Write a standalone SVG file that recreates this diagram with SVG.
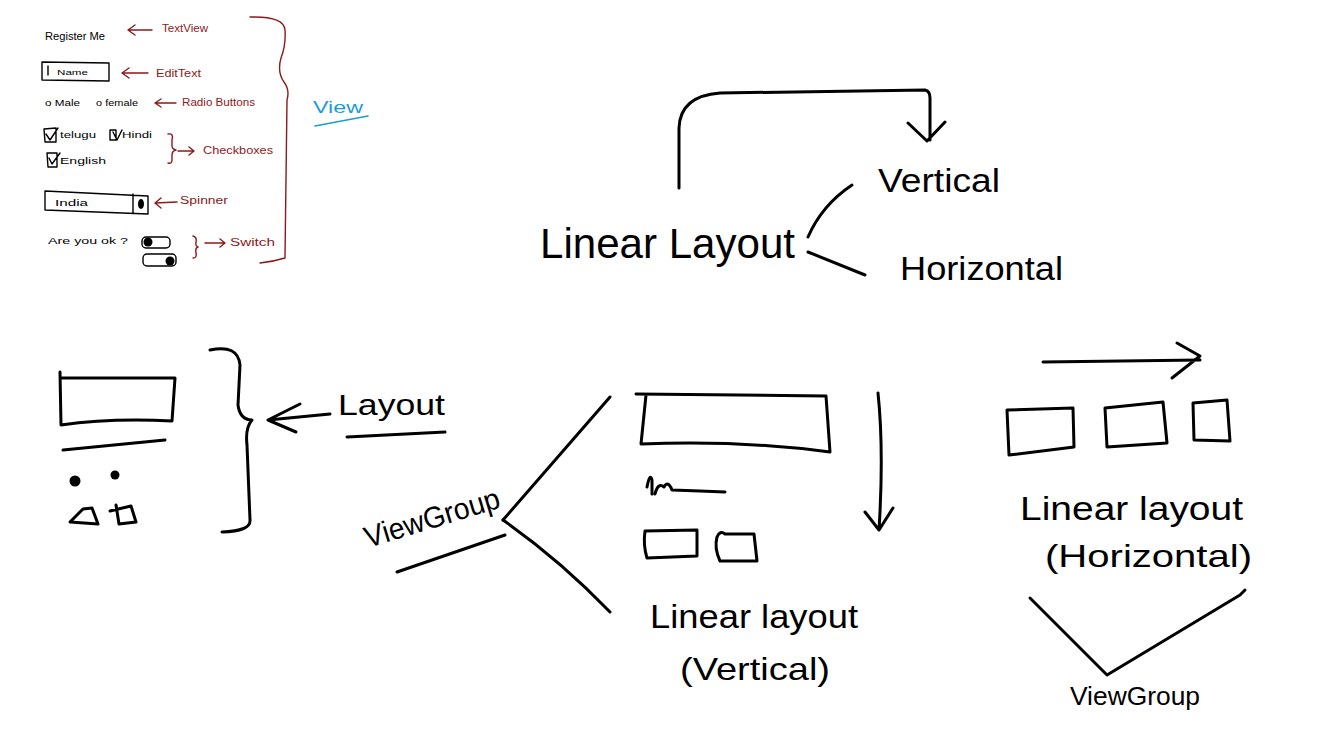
<svg xmlns="http://www.w3.org/2000/svg" width="1342" height="729" viewBox="0 0 1342 729">
<defs>
<style>
.bg{fill:#ffffff}
.s{fill:none;stroke:#000;stroke-width:3;stroke-linecap:round;stroke-linejoin:round}
.t{fill:none;stroke:#000;stroke-width:1.4;stroke-linecap:round;stroke-linejoin:round}
.r{fill:none;stroke:#8b1a1a;stroke-width:1.4;stroke-linecap:round;stroke-linejoin:round}
.b{fill:none;stroke:#1e9bd7;stroke-width:1.6;stroke-linecap:round}
.txt{font-family:"Liberation Sans","DejaVu Sans",sans-serif;fill:#000}
.rt{font-family:"Liberation Sans","DejaVu Sans",sans-serif;fill:#8b1a1a}
.bt{font-family:"Liberation Sans","DejaVu Sans",sans-serif;fill:#1e9bd7}
</style>
</defs>
<rect class="bg" x="0" y="0" width="1342" height="729"/>

<g id="view-mockup">
  <text class="txt" x="45" y="40" font-size="10" textLength="60" lengthAdjust="spacingAndGlyphs">Register Me</text>
  <path class="t" d="M42,62 L109,63 L109,81 L42,80 Z M48,66 L48,75"/>
  <text class="txt" x="57" y="75" font-size="8" textLength="31" lengthAdjust="spacingAndGlyphs">Name</text>
  <text class="txt" x="45" y="106" font-size="9" textLength="35" lengthAdjust="spacingAndGlyphs">o Male</text>
  <text class="txt" x="96" y="106" font-size="9" textLength="42" lengthAdjust="spacingAndGlyphs">o female</text>
  <path class="t" d="M44,129 L56,128 L56,142 L45,142 Z M46,134 L50,140 L58,128"/>
  <text class="txt" x="60" y="138" font-size="9" textLength="36" lengthAdjust="spacingAndGlyphs">telugu</text>
  <path class="t" d="M110,130 L116,130 L116,140 L110,140 Z M113,132 L117,140 L122,130"/>
  <text class="txt" x="122" y="138" font-size="9" textLength="30" lengthAdjust="spacingAndGlyphs">Hindi</text>
  <path class="t" d="M47,153 L57,153 L57,167 L48,167 Z M49,158 L52,164 L60,153"/>
  <text class="txt" x="60" y="164" font-size="9" textLength="46" lengthAdjust="spacingAndGlyphs">English</text>
  <path class="t" d="M45,191 L148,196 L148,214 L45,210 Z M133,194 L133,213"/>
  <ellipse cx="141" cy="204" rx="3" ry="5" fill="#000"/>
  <text class="txt" x="55" y="206" font-size="9" textLength="33" lengthAdjust="spacingAndGlyphs">India</text>
  <text class="txt" x="48" y="244" font-size="9" textLength="80" lengthAdjust="spacingAndGlyphs">Are you ok ?</text>
  <rect class="t" x="142" y="237" width="28" height="11" rx="4"/>
  <circle cx="148" cy="242" r="4.5" fill="#000"/>
  <rect class="t" x="143" y="254" width="33" height="12" rx="4"/>
  <circle cx="170" cy="261" r="4.5" fill="#000"/>
</g>

<g id="view-labels">
  <path class="r" d="M152,30 L128,30 M135,25 L128,30 L135,35"/>
  <text class="rt" x="162" y="32" font-size="10" textLength="46" lengthAdjust="spacingAndGlyphs">TextView</text>
  <path class="r" d="M148,73 L122,73 M129,68 L122,73 L129,78"/>
  <text class="rt" x="156" y="77" font-size="10" textLength="45" lengthAdjust="spacingAndGlyphs">EditText</text>
  <path class="r" d="M176,103 L155,103 M161,99 L155,103 L161,107"/>
  <text class="rt" x="182" y="106" font-size="10" textLength="73" lengthAdjust="spacingAndGlyphs">Radio Buttons</text>
  <path class="r" d="M168,134 Q174,133 172,140 L172,146 Q172,149 176,150 Q172,151 172,155 L172,160 Q172,164 168,163 M178,151 L194,151 M189,147 L194,151 L189,155"/>
  <text class="rt" x="203" y="154" font-size="10" textLength="70" lengthAdjust="spacingAndGlyphs">Checkboxes</text>
  <path class="r" d="M177,202 L155,203 M161,198 L155,203 L161,208"/>
  <text class="rt" x="180" y="204" font-size="10" textLength="48" lengthAdjust="spacingAndGlyphs">Spinner</text>
  <path class="r" d="M193,236 Q197,237 196,242 Q195,246 198,247 Q195,248 196,253 Q197,258 193,258 M205,243 L225,243 M220,239 L225,243 L220,247"/>
  <text class="rt" x="230" y="246" font-size="10" textLength="45" lengthAdjust="spacingAndGlyphs">Switch</text>
  <path class="r" d="M250,17 Q284,16 285,30 Q286,45 281,58 Q277,72 284,82 Q290,90 287,100 L285,258 Q272,262 260,263"/>
</g>

<g id="view-title">
  <text class="bt" x="313" y="113" font-size="17" textLength="50" lengthAdjust="spacingAndGlyphs">View</text>
  <path class="b" d="M315,126 L368,116"/>
</g>

<g id="linear-layout-top">
  <text class="txt" x="540" y="258" font-size="42" textLength="255" lengthAdjust="spacingAndGlyphs">Linear Layout</text>
</g>
<g id="vertical-top">
  <text class="txt" x="878" y="192" font-size="34" textLength="122" lengthAdjust="spacingAndGlyphs">Vertical</text>
</g>
<g id="horizontal-top">
  <text class="txt" x="900" y="280" font-size="34" textLength="163" lengthAdjust="spacingAndGlyphs">Horizontal</text>
</g>

<g id="layout-mockup">
  <path class="s" d="M60,372 L61,425 Q110,418 172,421 L175,378 L62,378"/>
  <path class="s" d="M63,450 L165,440"/>
  <circle cx="75" cy="481" r="4.5" fill="#000" stroke="#000" stroke-width="2"/>
  <circle cx="115" cy="475" r="4.5" fill="#000"/>
  <path class="s" d="M70,522 L83,509 L92,508 L98,524 Z"/>
  <path class="s" d="M110,511 L131,506 L136,522 L119,524 L116,505"/>
  <path class="s" d="M210,350 Q238,344 240,365 L238,405 Q240,420 252,420 Q245,428 247,445 L250,520 Q251,531 222,532"/>
</g>

<g id="layout-label">
  <text class="txt" x="338" y="415" font-size="30" textLength="107" lengthAdjust="spacingAndGlyphs">Layout</text>
  <path class="s" d="M347,437 L445,432"/>
</g>

<g id="viewgroup-left">
  <text class="txt" x="368" y="548" font-size="30" textLength="140" lengthAdjust="spacingAndGlyphs" transform="rotate(-17 368 548)">ViewGroup</text>
  <path class="s" d="M397,572 L505,535"/>
</g>

<g id="vertical-mockup">
  <path class="s" d="M636,394 L826,396 L830,452 Q740,440 641,444 L646,395"/>
  <path class="s" d="M647,487 Q650,472 652,480 L652,494 M655,494 Q658,482 664,487 Q668,480 672,490 L700,491 L725,492"/>
  <path class="s" d="M645,531 L697,530 L697,556 L647,558 Q643,545 645,531 Z"/>
  <path class="s" d="M717,537 Q720,530 725,534 L754,534 L757,561 L720,561 Q714,548 717,537"/>
  <path class="s" d="M878,393 Q884,450 879,530 M865,512 L879,530 L893,508"/>
  <text class="txt" x="650" y="628" font-size="34" textLength="208" lengthAdjust="spacingAndGlyphs">Linear layout</text>
  <text class="txt" x="680" y="680" font-size="32" textLength="150" lengthAdjust="spacingAndGlyphs">(Vertical)</text>
</g>

<g id="horizontal-mockup">
  <path class="s" d="M1043,362 L1200,360 M1177,343 L1200,356 L1172,378"/>
  <path class="s" d="M1007,410 L1073,408 L1074,447 L1009,455 Z"/>
  <path class="s" d="M1105,408 L1163,402 L1167,443 L1107,447 Z"/>
  <path class="s" d="M1193,403 L1227,400 L1230,441 L1194,440 Z"/>
  <text class="txt" x="1020" y="520" font-size="34" textLength="223" lengthAdjust="spacingAndGlyphs">Linear layout</text>
  <text class="txt" x="1045" y="567" font-size="32" textLength="207" lengthAdjust="spacingAndGlyphs">(Horizontal)</text>
</g>

<g id="viewgroup-right">
  <text class="txt" x="1070" y="705" font-size="26" textLength="130" lengthAdjust="spacingAndGlyphs">ViewGroup</text>
</g>

<g id="connectors">
  <path class="s" d="M679,188 L679,128 Q680,96 720,93 L925,90 Q930,91 930,98 L930,140 M908,123 L927,141 L945,122"/>
  <path class="s" d="M852,185 Q822,205 808,237"/>
  <path class="s" d="M808,252 L865,275"/>
  <path class="s" d="M330,414 L268,420 M300,404 L268,420 L296,432"/>
  <path class="s" d="M503,520 L610,397"/>
  <path class="s" d="M503,520 Q560,560 610,612"/>
  <path class="s" d="M1030,598 L1107,675 L1240,595 L1245,590"/>
</g>
</svg>
